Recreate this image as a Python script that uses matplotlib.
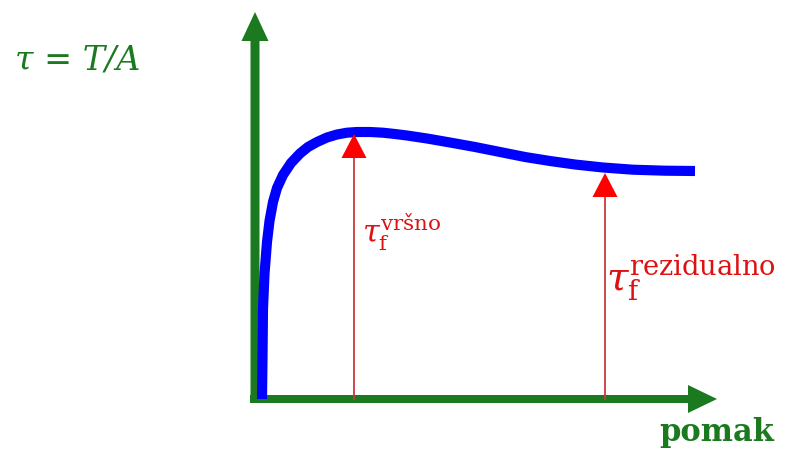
import numpy as np
import matplotlib.pyplot as plt

plt.rcParams['mathtext.fontset'] = 'dejavuserif'

# displacement vs shear stress (schematic), origin at the axis crossing
displacement = [7, 7.5, 8, 9.5, 12, 14.5, 18, 22, 28, 36, 45, 53, 62, 72, 82, 92, 102, 115, 128,
                140, 152, 172, 195, 220, 245, 270, 295, 320, 348, 378, 410, 440]
stress = [0, 40, 90, 125, 157, 178, 197, 211, 224, 236, 245.5, 252, 257, 261.5, 264.5, 266.3, 267, 267, 266.3,
          265, 263.5, 260.5, 256.5, 252, 247, 242, 238, 234.5, 231.5, 229.3, 228.3, 228]

x_axis_end = 462
y_axis_end = 387
peak_x, peak_tau = 99, 265
resid_x, resid_tau = 350, 226

green = '#1b7a1f'
red = '#ff0000'

fig = plt.figure(figsize=(7.87, 4.56), dpi=100)
ax = fig.add_axes([0, 0, 1, 1])
ax.set_xlim(-255, 532)
ax.set_ylim(-56, 400)
ax.axis('off')

# axes arrows
ax.arrow(-5, 0, x_axis_end + 5, 0, width=8, head_width=28, head_length=29,
         length_includes_head=True, color=green, lw=0, zorder=1)
ax.arrow(0, -4, 0, y_axis_end + 4, width=9, head_width=27, head_length=29,
         length_includes_head=True, color=green, lw=0, zorder=1)

# curve
ax.plot(displacement, stress, color='#0000ff', lw=7.3, solid_joinstyle='round',
        solid_capstyle='butt', zorder=2)

# red arrows
for xv, tv in [(peak_x, peak_tau), (resid_x, resid_tau)]:
    ax.plot([xv, xv], [0, tv - 20], color='#c83a3a', lw=1.3, zorder=3)
    ax.arrow(xv, tv - 24, 0, 24, width=0.1, head_width=25, head_length=24,
             length_includes_head=True, color=red, lw=0, zorder=4)

ax.text(-240, 340, 'τ = T/A', color=green, fontsize=24, fontstyle='italic',
        family='DejaVu Serif', va='center', ha='left')
ax.text(404, -33, 'pomak', color=green, fontsize=22, fontweight='bold',
        family='DejaVu Serif', va='center', ha='left')

ax.text(peak_x + 8, 168, r'$\tau_{\mathrm{f}}^{\mathrm{vršno}}$', color='#dd1111',
        fontsize=22, va='center', ha='left')
ax.text(resid_x + 1, 122, r'$\tau_{\mathrm{f}}^{\mathrm{rezidualno}}$', color='#dd1111',
        fontsize=28, va='center', ha='left')

fig.savefig('out.png', dpi=100)
